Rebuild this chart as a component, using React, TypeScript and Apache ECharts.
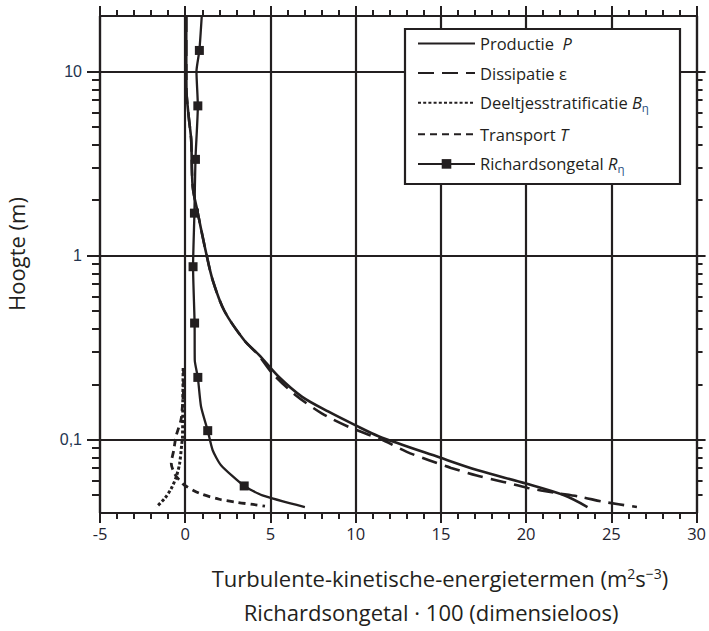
import React, { useEffect, useRef } from 'react';
import * as echarts from 'echarts';

// ---------- data (heights in m, values in m2 s-3 or Ri*100) ----------
const prodH = [20, 12, 8, 7.3, 5.5, 4.25, 2.37, 1.7, 1.03, 0.736, 0.5, 0.347, 0.288, 0.219, 0.171, 0.142, 0.12, 0.1045, 0.08, 0.0682, 0.0578, 0.0499, 0.0431];
const prodV = [0.06, 0.06, 0.07, 0.09, 0.22, 0.35, 0.44, 0.74, 1.23, 1.61, 2.3, 3.46, 4.34, 5.5, 6.86, 8.41, 9.97, 11.34, 14.94, 17.17, 19.99, 22.23, 23.6];

const dissH = [20, 12, 8, 7.3, 5.5, 4.25, 2.37, 1.7, 1.03, 0.736, 0.5, 0.347, 0.288, 0.23, 0.1746, 0.1387, 0.1174, 0.0984, 0.0859, 0.0774, 0.0703, 0.0639, 0.059, 0.0547, 0.0516, 0.0489, 0.0459, 0.0431];
const dissV = [0.06, 0.06, 0.07, 0.09, 0.22, 0.35, 0.44, 0.74, 1.23, 1.61, 2.3, 3.46, 4.3, 5.1, 6.48, 8.03, 9.59, 11.7, 13.0, 14.3, 15.6, 17.1, 18.67, 20.1, 21.65, 23.2, 24.6, 26.5];

const stratH = [0.245, 0.164, 0.103, 0.0953, 0.0743, 0.0628, 0.0543, 0.0479, 0.0431];
const stratV = [-0.12, -0.14, -0.16, -0.2, -0.33, -0.53, -0.82, -1.21, -1.69];

const transH = [0.245, 0.19, 0.15, 0.128, 0.105, 0.087, 0.0745, 0.0649, 0.0602, 0.0566, 0.0512, 0.0475, 0.0457, 0.0445, 0.0436];
const transV = [-0.1, -0.1, -0.17, -0.25, -0.53, -0.68, -0.82, -0.6, -0.33, -0.04, 0.83, 2.0, 3.05, 3.98, 4.68];

const richH = [20, 13, 10, 6.5, 3.33, 1.7, 0.87, 0.43, 0.27, 0.218, 0.151, 0.112, 0.0877, 0.0727, 0.0561, 0.0499, 0.0431];
const richV = [0.97, 0.83, 0.66, 0.74, 0.6, 0.54, 0.46, 0.55, 0.56, 0.74, 0.93, 1.32, 1.61, 2.1, 3.46, 4.53, 7.02];
const richMarked = [false, true, false, true, true, true, true, true, false, true, false, true, false, false, true, false, false];

const majorHeights = [0.1, 1, 10];
const majorLabels = ['0,1', '1', '10'];
const minorHeights = [0.05, 0.06, 0.07, 0.08, 0.09, 0.2, 0.3, 0.4, 0.5, 0.6, 0.7, 0.8, 0.9, 2, 3, 4, 5, 6, 7, 8, 9];
const hMin = 0.04;
const hMax = 20;
const xMin = -5;
const xMax = 30;
const xStep = 5;

const seriesNames = ['P', 'eps', 'B', 'T', 'R'];
const legendLabels = [
  'Productie  {i|P}',
  'Dissipatie {n|ε}',
  'Deeltjesstratificatie {i|B}{s|η}',
  'Transport {i|T}',
  'Richardsongetal {i|R}{s|η}',
];
const legendHasSquare = [false, false, false, false, true];

const INK = '#231f20';
const lg = (h: number) => Math.log10(h);

export default function App() {
  const ref = useRef<HTMLDivElement>(null);
  useEffect(() => {
    document.body.style.margin = '0';
    if (!ref.current) return;
    const chart = echarts.init(ref.current, undefined, { renderer: 'svg' });
    const yMin = lg(hMin);
    const yMax = lg(hMax);
    const majorLogs = majorHeights.map(lg);
    const minorLogs = minorHeights.map(lg);
    const pair = (hs: number[], vs: number[]) => hs.map((h, i) => [vs[i], lg(h)]);

    const lineBase = { type: 'line', symbol: 'none', z: 3 };
    const yCommon = { type: 'value', min: yMin, max: yMax };
    const fontFamily = '"Open Sans", "DejaVu Sans", sans-serif';

    chart.setOption({
      animation: false,
      grid: { left: 100, right: 9, top: 16, bottom: 118 },
      xAxis: [
        {
          type: 'value', position: 'bottom', min: xMin, max: xMax, interval: xStep,
          axisLine: { show: true, onZero: false, lineStyle: { color: INK, width: 2.2 } },
          axisTick: { show: true, inside: false, length: 10, lineStyle: { color: INK, width: 2 } },
          minorTick: { show: true, splitNumber: 5, length: 6, lineStyle: { color: INK, width: 2 } },
          axisLabel: { show: true, margin: 12, color: '#1e2330', fontSize: 16.5, fontFamily },
          splitLine: { show: true, lineStyle: { color: INK, width: 2.2 } },
        },
        {
          type: 'value', position: 'top', min: xMin, max: xMax, interval: xStep,
          axisLine: { show: true, onZero: false, lineStyle: { color: INK, width: 2.2 } },
          axisTick: { show: true, inside: false, length: 10, lineStyle: { color: INK, width: 2 } },
          minorTick: { show: true, splitNumber: 5, length: 6, lineStyle: { color: INK, width: 2 } },
          axisLabel: { show: false },
          splitLine: { show: false },
        },
      ],
      yAxis: [
        {
          ...yCommon, position: 'left',
          axisLine: { show: true, onZero: false, lineStyle: { color: INK, width: 2.2 } },
          axisTick: { show: true, inside: false, length: 13, customValues: majorLogs, lineStyle: { color: INK, width: 2 } },
          axisLabel: {
            show: true, margin: 18, customValues: majorLogs, color: '#24354f', fontSize: 16,
            fontFamily: '"Liberation Sans", Arial, sans-serif',
            formatter: (v: number) => {
              const i = majorLogs.findIndex((m) => Math.abs(m - v) < 1e-6);
              return i >= 0 ? majorLabels[i] : '';
            },
          },
          splitLine: { show: true, lineStyle: { color: INK, width: 2.2 } },
        },
        {
          ...yCommon, position: 'left',
          axisLine: { show: false, onZero: false },
          axisTick: { show: true, inside: false, length: 8, customValues: minorLogs, lineStyle: { color: INK, width: 2 } },
          axisLabel: { show: false },
          splitLine: { show: false },
        },
        {
          ...yCommon, position: 'right',
          axisLine: { show: true, onZero: false, lineStyle: { color: INK, width: 2.2 } },
          axisTick: { show: true, inside: false, length: 9, customValues: majorLogs, lineStyle: { color: INK, width: 2 } },
          axisLabel: { show: false },
          splitLine: { show: false },
        },
        {
          ...yCommon, position: 'right',
          axisLine: { show: false, onZero: false },
          axisTick: { show: true, inside: false, length: 6, customValues: minorLogs, lineStyle: { color: INK, width: 2 } },
          axisLabel: { show: false },
          splitLine: { show: false },
        },
      ],
      legend: {
        orient: 'vertical', left: 417, top: 35, z: 10, padding: 0,
        itemWidth: 57, itemHeight: 12, itemGap: 12.6,
        data: seriesNames.map((n, i) => (legendHasSquare[i] ? { name: n } : { name: n, itemStyle: { opacity: 0 } })),
        formatter: (name: string) => legendLabels[seriesNames.indexOf(name)],
        textStyle: {
          color: INK, fontSize: 16.5, fontFamily,
          rich: {
            i: { fontStyle: 'italic', fontSize: 16.5, fontFamily, color: INK },
            n: { fontSize: 16.5, fontFamily, color: INK },
            s: { fontSize: 11.5, fontFamily, color: '#2a4f7f', padding: [9, 0, 0, 0] },
          },
        },
      },
      graphic: {
        elements: [
          {
            type: 'rect', z: 8, shape: { x: 405, y: 29, width: 275, height: 155 },
            style: { fill: '#ffffff', stroke: INK, lineWidth: 2.2 },
          },
          {
            type: 'text', x: 16, y: 254, rotation: Math.PI / 2, z: 8,
            style: { text: 'Hoogte (m)', fill: INK, fontSize: 22, fontFamily, align: 'center', verticalAlign: 'middle' },
          },
          {
            type: 'text', x: 440, y: 578, z: 8,
            style: {
              text: 'Turbulente-kinetische-energietermen (m{sup|2}s{sup|−3})',
              fill: INK, fontSize: 22, fontFamily, align: 'center', verticalAlign: 'middle',
              rich: { sup: { fontSize: 14, fontFamily, fill: INK, padding: [0, 0, 10, 0] } },
            },
          },
          {
            type: 'text', x: 431, y: 612, z: 8,
            style: {
              text: 'Richardsongetal · 100 (dimensieloos)',
              fill: INK, fontSize: 22, fontFamily, align: 'center', verticalAlign: 'middle',
            },
          },
        ],
      },
      series: [
        { ...lineBase, name: 'P', data: pair(prodH, prodV), smooth: 0.3, lineStyle: { color: INK, width: 2.6 }, itemStyle: { color: INK } },
        { ...lineBase, name: 'eps', data: pair(dissH, dissV), smooth: 0.3, lineStyle: { color: INK, width: 2.6, type: [16, 8] }, itemStyle: { color: INK } },
        { ...lineBase, name: 'B', data: pair(stratH, stratV), smooth: 0.3, lineStyle: { color: INK, width: 3, type: [3, 2.2] }, itemStyle: { color: INK } },
        { ...lineBase, name: 'T', data: pair(transH, transV), smooth: 0.3, lineStyle: { color: INK, width: 2.8, type: [7, 5] }, itemStyle: { color: INK } },
        {
          type: 'line', name: 'R', z: 4, symbol: 'rect', symbolSize: 9, showSymbol: true, smooth: 0.2,
          data: richH.map((h, i) => ({ value: [richV[i], lg(h)], symbol: richMarked[i] ? 'rect' : 'none' })),
          lineStyle: { color: INK, width: 2.3 }, itemStyle: { color: INK },
        },
      ],
    });
    return () => chart.dispose();
  }, []);
  return <div ref={ref} style={{ width: 709, height: 631 }} />;
}
